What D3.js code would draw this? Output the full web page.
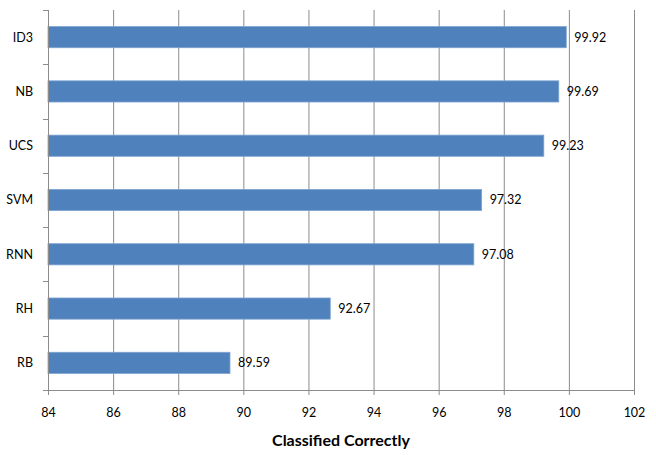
<!DOCTYPE html>
<html>
<head>
<meta charset="utf-8">
<script src="https://cdn.jsdelivr.net/npm/d3@7"></script>
<style>
  body { margin: 0; background: #fff; }
  text { font-family: Lato, "Open Sans", sans-serif; fill: #000; }
</style>
</head>
<body>
<div id="chart"></div>
<script>
const categories = ["ID3", "NB", "UCS", "SVM", "RNN", "RH", "RB"];
const values = [99.92, 99.69, 99.23, 97.32, 97.08, 92.67, 89.59];
const xTicks = [84, 86, 88, 90, 92, 94, 96, 98, 100, 102];
const xTitle = "Classified Correctly";

const W = 656, H = 455;
const margin = { top: 10, right: 22, bottom: 65, left: 48 };
const width = W - margin.left - margin.right,
  height = H - margin.top - margin.bottom;

const svg = d3.select("#chart")
  .append("svg")
  .attr("width", W)
  .attr("height", H);

const g = svg.append("g")
  .attr("transform", `translate(${margin.left},${margin.top})`);

const x = d3.scaleLinear()
  .domain([84, 102])
  .range([0, width]);

const y = d3.scaleBand()
  .domain(categories)
  .range([0, height])
  .paddingInner(0.61)
  .paddingOuter(0.305);

// gridlines
g.selectAll("line.grid")
  .data(xTicks)
  .enter()
  .append("line")
  .attr("class", "grid")
  .attr("x1", d => x(d) + 0.5)
  .attr("x2", d => x(d) + 0.5)
  .attr("y1", 0)
  .attr("y2", height)
  .attr("stroke", "#8c8c8c")
  .attr("stroke-width", 1);

// bars
g.selectAll("rect.bar")
  .data(categories)
  .enter()
  .append("rect")
  .attr("class", "bar")
  .attr("x", x(84))
  .attr("y", d => y(d))
  .attr("width", (d, i) => x(values[i]) - x(84))
  .attr("height", y.bandwidth())
  .attr("fill", "#4f81bd")
  .attr("stroke", "#7ea3d0")
  .attr("stroke-width", 0.8);

// value labels
g.selectAll("text.val")
  .data(categories)
  .enter()
  .append("text")
  .attr("class", "val")
  .attr("x", (d, i) => x(values[i]) + 8)
  .attr("y", d => y(d) + y.bandwidth() / 2)
  .attr("dy", "0.35em")
  .style("font-size", "12.5px")
  .text((d, i) => values[i].toFixed(2));

// x axis
const xAxis = g.append("g")
  .attr("transform", `translate(0,${height})`)
  .call(d3.axisBottom(x).tickValues(xTicks).tickSize(5).tickPadding(13));
xAxis.selectAll("path, line").attr("stroke", "#8c8c8c");
xAxis.selectAll("text").style("font-size", "12.5px").style("font-family", "Lato, sans-serif");

// y axis with ticks between categories
const yAxis = g.append("g");
yAxis.append("line")
  .attr("x1", 0.5).attr("x2", 0.5)
  .attr("y1", 0).attr("y2", height)
  .attr("stroke", "#8c8c8c");
const step = y.step();
yAxis.selectAll("line.yt")
  .data(d3.range(categories.length + 1))
  .enter()
  .append("line")
  .attr("class", "yt")
  .attr("x1", -5).attr("x2", 0)
  .attr("y1", d => Math.round(d * step) + 0.5)
  .attr("y2", d => Math.round(d * step) + 0.5)
  .attr("stroke", "#8c8c8c");
yAxis.selectAll("text.cat")
  .data(categories)
  .enter()
  .append("text")
  .attr("class", "cat")
  .attr("x", -15)
  .attr("y", d => y(d) + y.bandwidth() / 2)
  .attr("dy", "0.35em")
  .attr("text-anchor", "end")
  .style("font-size", "12.5px")
  .text(d => d);

// axis title
svg.append("text")
  .attr("x", margin.left + width / 2)
  .attr("y", 446)
  .attr("text-anchor", "middle")
  .style("font-size", "16px")
  .style("font-weight", "bold")
  .text(xTitle);
</script>
</body>
</html>
